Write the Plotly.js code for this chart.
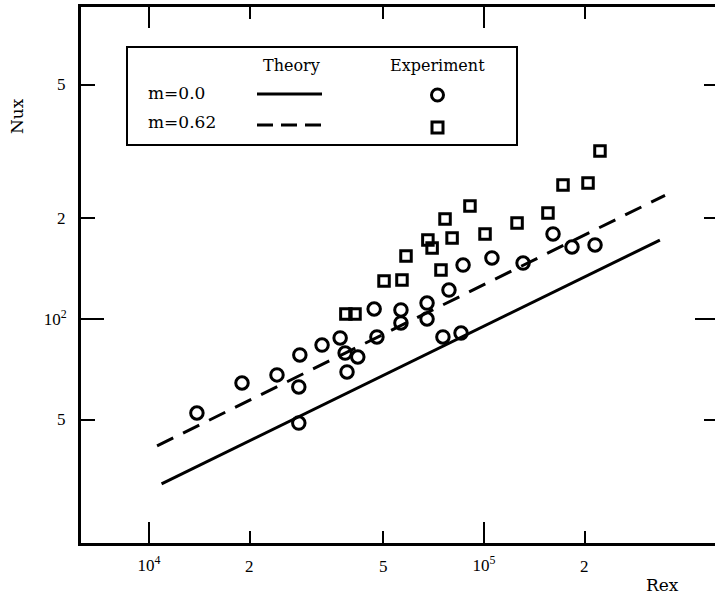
<!DOCTYPE html>
<html>
<head>
<meta charset="utf-8">
<script src="https://cdn.plot.ly/plotly-3.0.1.min.js"></script>
<style>
html,body{margin:0;padding:0;overflow:hidden;background:#fff;}
#chart{width:720px;height:595px;}
</style>
</head>
<body>
<div id="chart"></div>
<script>
// ---- data ----
const circleRe = [13900, 18950, 24100, 28000, 28200, 32850, 37200, 38500, 42000, 39000, 47900, 47000, 56500, 56500, 67600, 67600, 78600, 86600, 75400, 85400, 105600, 130800, 160700, 183100, 214500, 28000];
const circleNu = [52.4, 64.4, 68.1, 62.7, 78.1, 83.6, 87.8, 79.1, 77.0, 69.5, 88.4, 107.1, 106.4, 97.3, 111.6, 100, 122.0, 144.9, 88.4, 90.8, 152.1, 146.9, 179.4, 164.0, 166.4, 48.9];
const squareRe = [38700, 41200, 50300, 56900, 58500, 68000, 70000, 74400, 76500, 80300, 90800, 100700, 125500, 155200, 172100, 204400, 221900];
const squareNu = [103.5, 103.5, 129.9, 130.8, 154.2, 172.1, 162.9, 140.1, 198.9, 174.5, 217.5, 179.4, 193.4, 207.3, 251.2, 254.7, 317.3];
const theoryRe0 = [10900, 335000];
const theoryNu0 = [32.2, 172];
const theoryRe62 = [10570, 347000];
const theoryNu62 = [41.8, 234];

// major (long, labelled by the axis) and minor (short) ticks
const xMajorVals = [1e4, 1e5];
const xMajorText = ['10<sup>4</sup>', '10<sup>5</sup>'];
const xMinorVals = [2e4, 5e4, 2e5];
const xMinorText = ['2', '5', '2'];
const yMajorVals = [100];
const yMajorText = ['10<sup>2</sup>'];
const yMinorVals = [50, 200, 500];
const yMinorText = ['5', '2', '5'];

const legendRows = ['m=0.0', 'm=0.62'];
const legendHeads = ['Theory', 'Experiment'];

// ---- layout geometry ----
const PL = 81, PT = 7, PW = 637, PH = 536;
const X_RANGE = [3.797, 5.6985];
const Y_RANGE = [1.3313, 2.9313];
function px(x){ return (x - PL) / PW; }
function py(y){ return (PT + PH - y) / PH; }

const serif = 'Liberation Serif, Times New Roman, serif';
const serif2 = 'DejaVu Serif, serif';
const tickFont = {family: serif, size: 17, color: '#000'};

const traces = [
  {x: theoryRe0, y: theoryNu0, mode: 'lines', type: 'scatter', line: {color: '#000', width: 3}},
  {x: theoryRe62, y: theoryNu62, mode: 'lines', type: 'scatter', line: {color: '#000', width: 3, dash: '18px,11px'}},
  {x: circleRe, y: circleNu, mode: 'markers', type: 'scatter',
   marker: {symbol: 'circle-open', size: 12.5, color: '#000', line: {width: 3, color: '#000'}}},
  {x: squareRe, y: squareNu, mode: 'markers', type: 'scatter',
   marker: {symbol: 'square-open', size: 10.5, color: '#000', line: {width: 3, color: '#000'}}}
];

const annotations = [
  {text: legendHeads[0], xref: 'paper', yref: 'paper', x: px(291), y: py(65), showarrow: false, xanchor: 'center', yanchor: 'middle', font: {family: serif2, size: 16}},
  {text: legendHeads[1], xref: 'paper', yref: 'paper', x: px(437), y: py(65), showarrow: false, xanchor: 'center', yanchor: 'middle', font: {family: serif2, size: 16}},
  {text: legendRows[0], xref: 'paper', yref: 'paper', x: px(146), y: py(93), showarrow: false, xanchor: 'left', yanchor: 'middle', font: {family: serif2, size: 17}},
  {text: legendRows[1], xref: 'paper', yref: 'paper', x: px(146), y: py(122), showarrow: false, xanchor: 'left', yanchor: 'middle', font: {family: serif2, size: 17}},
  {text: 'Nux', xref: 'paper', yref: 'paper', x: px(17), y: py(116), showarrow: false, textangle: -90, xanchor: 'center', yanchor: 'middle', font: {family: serif2, size: 17}},
  {text: 'Rex', xref: 'paper', yref: 'paper', x: px(662), y: py(585), showarrow: false, xanchor: 'center', yanchor: 'middle', font: {family: serif2, size: 17}}
];
// labels at the minor tick positions (log axes: annotation coords are log10)
xMinorVals.forEach(function(v, i){
  annotations.push({text: xMinorText[i], xref: 'x', yref: 'paper', x: Math.log10(v), y: py(566), showarrow: false, xanchor: 'center', yanchor: 'middle', font: tickFont});
});
yMinorVals.forEach(function(v, i){
  annotations.push({text: yMinorText[i], xref: 'paper', yref: 'y', x: px(68), y: Math.log10(v), showarrow: false, xanchor: 'right', yanchor: 'middle', font: tickFont});
});

const layout = {
  width: 720, height: 595,
  margin: {l: PL, r: 720 - PL - PW, t: PT, b: 595 - PT - PH},
  paper_bgcolor: '#fff', plot_bgcolor: '#fff',
  showlegend: false,
  font: {family: serif, size: 15, color: '#000'},
  xaxis: {
    type: 'log', range: X_RANGE, tickmode: 'array', tickvals: xMajorVals, ticktext: xMajorText,
    ticks: 'inside', ticklen: 21, tickwidth: 2, tickcolor: '#000',
    minor: {tickmode: 'array', tickvals: xMinorVals, ticks: 'inside', ticklen: 12, tickwidth: 2, tickcolor: '#000', showgrid: false},
    showline: true, linewidth: 3, linecolor: '#000', mirror: 'ticks', showgrid: false, zeroline: false,
    tickfont: tickFont, ticklabelstandoff: 5
  },
  yaxis: {
    type: 'log', range: Y_RANGE, tickmode: 'array', tickvals: yMajorVals, ticktext: yMajorText,
    ticks: 'inside', ticklen: 23, tickwidth: 2, tickcolor: '#000',
    minor: {tickmode: 'array', tickvals: yMinorVals, ticks: 'inside', ticklen: 14, tickwidth: 2, tickcolor: '#000', showgrid: false},
    showline: true, linewidth: 3, linecolor: '#000', mirror: 'ticks', showgrid: false, zeroline: false,
    tickfont: tickFont, ticklabelstandoff: 8
  },
  shapes: [
    {type: 'rect', xref: 'paper', yref: 'paper', x0: px(127), x1: px(517), y0: py(145), y1: py(47), line: {color: '#000', width: 2}, fillcolor: '#fff', layer: 'above'},
    {type: 'line', xref: 'paper', yref: 'paper', x0: px(257), x1: px(322), y0: py(94), y1: py(94), line: {color: '#000', width: 3}, layer: 'above'},
    {type: 'line', xref: 'paper', yref: 'paper', x0: px(257), x1: px(327), y0: py(125), y1: py(125), line: {color: '#000', width: 3, dash: '16px,8px'}, layer: 'above'},
    {type: 'circle', xref: 'paper', yref: 'paper', x0: px(431.5), x1: px(443.5), y0: py(101), y1: py(89), line: {color: '#000', width: 3}, layer: 'above'},
    {type: 'rect', xref: 'paper', yref: 'paper', x0: px(432), x1: px(443), y0: py(133), y1: py(122), line: {color: '#000', width: 3}, layer: 'above'}
  ],
  annotations: annotations
};

Plotly.newPlot('chart', traces, layout, {staticPlot: true, displayModeBar: false});
</script>
</body>
</html>
